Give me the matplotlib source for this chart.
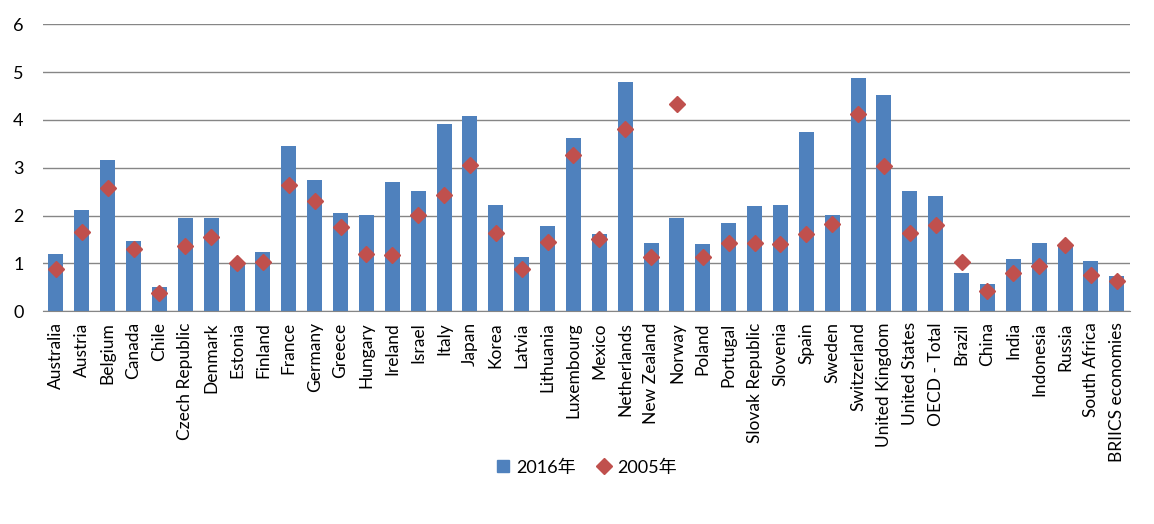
import numpy as np
import matplotlib
matplotlib.use("Agg")
import matplotlib.pyplot as plt
from matplotlib.lines import Line2D

plt.rcParams['font.family'] = ['Lato', 'Noto Sans CJK SC', 'DejaVu Sans']

countries = ["Australia", "Austria", "Belgium", "Canada", "Chile", "Czech Republic",
             "Denmark", "Estonia", "Finland", "France", "Germany", "Greece", "Hungary",
             "Ireland", "Israel", "Italy", "Japan", "Korea", "Latvia", "Lithuania",
             "Luxembourg", "Mexico", "Netherlands", "New Zealand", "Norway", "Poland",
             "Portugal", "Slovak Republic", "Slovenia", "Spain", "Sweden", "Switzerland",
             "United Kingdom", "United States", "OECD - Total", "Brazil", "China",
             "India", "Indonesia", "Russia", "South Africa", "BRIICS economies"]
v2016 = [1.20, 2.12, 3.16, 1.47, 0.51, 1.95, 1.95, 1.00, 1.24, 3.46, 2.75, 2.06, 2.01,
         2.70, 2.52, 3.92, 4.08, 2.22, 1.14, 1.78, 3.62, 1.62, 4.79, 1.43, 1.95, 1.41,
         1.85, 2.20, 2.22, 3.75, 2.01, 4.88, 4.52, 2.52, 2.41, 0.80, 0.57, 1.09, 1.43,
         1.39, 1.05, 0.74]
v2005 = [0.89, 1.66, 2.58, 1.31, 0.38, 1.37, 1.55, 1.01, 1.03, 2.64, 2.31, 1.76, 1.20,
         1.18, 2.01, 2.43, 3.06, 1.64, 0.89, 1.45, 3.27, 1.51, 3.81, 1.14, 4.33, 1.14,
         1.43, 1.43, 1.41, 1.62, 1.83, 4.13, 3.04, 1.64, 1.80, 1.03, 0.43, 0.80, 0.95,
         1.39, 0.76, 0.63]

blue = '#4F81BD'
red = '#C0504D'

fig = plt.figure(figsize=(11.54, 5.24), dpi=100)
ax = fig.add_axes([0.0373, 0.406, 0.9417, 0.5476])

x = np.arange(len(countries))
ax.bar(x, v2016, width=0.58, color=blue, zorder=2)
ax.plot(x, v2005, linestyle='none', marker='D', ms=8.5, color=red,
        markeredgecolor=red, zorder=3)

ax.set_xlim(-0.5, len(countries) - 0.5)
ax.set_ylim(0, 6)
ax.set_yticks(range(0, 7))
ax.yaxis.grid(True, color='#868686', linewidth=1)
ax.set_axisbelow(True)
for s in ['top', 'right', 'left']:
    ax.spines[s].set_visible(False)
ax.spines['bottom'].set_color('#868686')
ax.tick_params(axis='both', length=0)
ax.tick_params(axis='y', labelsize=13, pad=14)
ax.tick_params(axis='x', pad=8)
ax.set_xticks(x)
ax.set_xticklabels(countries, rotation=90, fontsize=12.5)

handles = [Line2D([], [], linestyle='none', marker='s', ms=9, color=blue),
           Line2D([], [], linestyle='none', marker='D', ms=8, color=red)]
ax.legend(handles, ['2016年', '2005年'], loc='upper center', bbox_to_anchor=(0.5, -0.46),
          ncol=2, frameon=False, fontsize=13, handlelength=0.8, handletextpad=0.3,
          columnspacing=1.2)

fig.savefig('out.png', dpi=100)
